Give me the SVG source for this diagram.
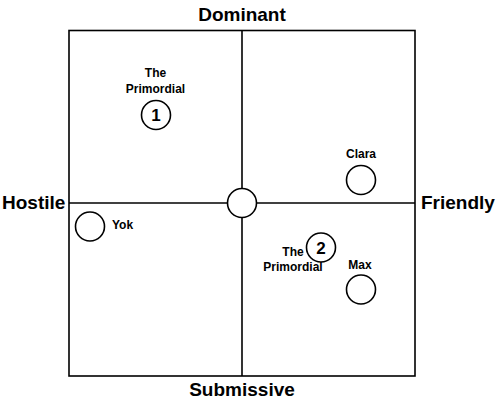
<svg xmlns="http://www.w3.org/2000/svg" width="500" height="403" viewBox="0 0 500 403">
<style>
.ln{stroke:#000;stroke-width:1.6;fill:none}
.nd{fill:#fff;stroke:#000;stroke-width:1.6}
.ax{font-family:"Liberation Sans",Arial,sans-serif;font-weight:bold;font-size:19px;fill:#000}
.lb{font-family:"Liberation Sans",Arial,sans-serif;font-weight:bold;font-size:12px;fill:#000}
.num{font-family:"Liberation Sans",Arial,sans-serif;font-weight:bold;font-size:17px;fill:#000}
</style>
<rect width="500" height="403" fill="#fff"/>
<g id="connectors">
<rect class="ln" x="69" y="30.5" width="346" height="345.5"/>
<line class="ln" x1="242" y1="30.5" x2="242" y2="376"/>
<line class="ln" x1="69" y1="203" x2="415" y2="203"/>
</g>
<g id="axis-labels">
<text class="ax" x="242" y="20.5" text-anchor="middle">Dominant</text>
<text class="ax" x="242" y="395.5" text-anchor="middle">Submissive</text>
<text class="ax" x="2" y="208.5">Hostile</text>
<text class="ax" x="421" y="208.5">Friendly</text>
</g>
<g id="center"><circle class="nd" cx="242" cy="203" r="14.5"/></g>
<g id="primordial1">
<text class="lb" x="155.5" y="76.5" text-anchor="middle">The</text>
<text class="lb" x="155.5" y="92.5" text-anchor="middle">Primordial</text>
<circle class="nd" cx="156" cy="115" r="14.5"/>
<text class="num" x="156" y="121" text-anchor="middle">1</text>
</g>
<g id="clara">
<text class="lb" x="361" y="157.5" text-anchor="middle">Clara</text>
<circle class="nd" cx="361" cy="180" r="14.5"/>
</g>
<g id="yok">
<circle class="nd" cx="90" cy="226.5" r="14.5"/>
<text class="lb" x="112" y="229">Yok</text>
</g>
<g id="primordial2">
<circle class="nd" cx="321" cy="247.5" r="14.5"/>
<text class="num" x="321" y="253.5" text-anchor="middle">2</text>
<text class="lb" x="293" y="255.5" text-anchor="middle">The</text>
<text class="lb" x="293" y="271" text-anchor="middle">Primordial</text>
</g>
<g id="max">
<text class="lb" x="360" y="269" text-anchor="middle">Max</text>
<circle class="nd" cx="361" cy="289.5" r="14.5"/>
</g>
</svg>
